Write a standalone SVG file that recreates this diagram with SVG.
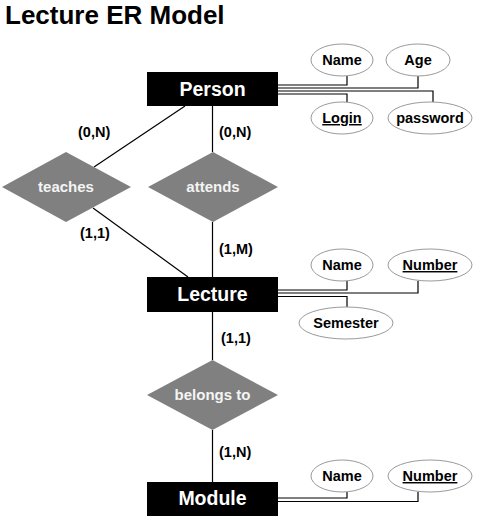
<svg xmlns="http://www.w3.org/2000/svg" width="482" height="517" viewBox="0 0 482 517">
<style>
.ent{fill:#000}
.entt{font-family:"Liberation Sans",Arial,sans-serif;font-weight:bold;font-size:19.5px;fill:#fff;text-anchor:middle}
.rel{fill:#808080}
.relt{font-family:"Liberation Sans",Arial,sans-serif;font-weight:bold;font-size:15px;fill:#f4f4f4;text-anchor:middle}
.att{fill:#fff;stroke:#9a9a9a;stroke-width:1}
.attt{font-family:"Liberation Sans",Arial,sans-serif;font-weight:bold;font-size:14.5px;fill:#000;text-anchor:middle}
.card{font-family:"Liberation Sans",Arial,sans-serif;font-weight:bold;font-size:14.5px;fill:#000}
.ln{fill:none;stroke:#000;stroke-width:1.2}
.title{font-family:"Liberation Sans",Arial,sans-serif;font-weight:bold;font-size:26px;fill:#000}
</style>
<rect width="482" height="517" fill="#fff"/>
<text class="title" x="5" y="24">Lecture ER Model</text>
<g id="connectors">
<line class="ln" x1="185" y1="106" x2="94" y2="167"/>
<line class="ln" x1="93" y1="208" x2="188" y2="277"/>
<line class="ln" x1="212.5" y1="106" x2="212.5" y2="152"/>
<line class="ln" x1="212.5" y1="222" x2="212.5" y2="277"/>
<line class="ln" x1="212.5" y1="312" x2="212.5" y2="360"/>
<line class="ln" x1="212.5" y1="430" x2="212.5" y2="482"/>
<polyline class="ln" points="278,85 347,85 347,76"/>
<polyline class="ln" points="278,88 418,88 418,76"/>
<polyline class="ln" points="278,91 433,91 433,102"/>
<polyline class="ln" points="278,94 347,94 347,102"/>
<polyline class="ln" points="278,290 347,290 347,281"/>
<polyline class="ln" points="278,293 418,293 418,281"/>
<polyline class="ln" points="278,296.5 347,296.5 347,308"/>
<polyline class="ln" points="278,498 347,498 347,492"/>
<polyline class="ln" points="278,501.5 418,501.5 418,492"/>
</g>
<g id="labels">
<text class="card" x="78" y="137">(0,N)</text>
<text class="card" x="219" y="137">(0,N)</text>
<text class="card" x="80" y="238">(1,1)</text>
<text class="card" x="219" y="254">(1,M)</text>
<text class="card" x="221" y="343">(1,1)</text>
<text class="card" x="219" y="457">(1,N)</text>
</g>
<g id="person">
<rect class="ent" x="147" y="72" width="131" height="34"/>
<text class="entt" x="212.5" y="96">Person</text>
</g>
<g id="person-name">
<ellipse class="att" cx="342" cy="60" rx="31" ry="16"/>
<text class="attt" x="342" y="65">Name</text>
</g>
<g id="person-age">
<ellipse class="att" cx="418" cy="60" rx="32" ry="16"/>
<text class="attt" x="418" y="65">Age</text>
</g>
<g id="person-login">
<ellipse class="att" cx="342" cy="118" rx="31" ry="16"/>
<text class="attt" x="342" y="123" text-decoration="underline">Login</text>
</g>
<g id="person-password">
<ellipse class="att" cx="430" cy="118" rx="42" ry="16"/>
<text class="attt" x="430" y="123">password</text>
</g>
<g id="teaches">
<polygon class="rel" points="2,187 66,152 131,187 66,222"/>
<text class="relt" x="66" y="192">teaches</text>
</g>
<g id="attends">
<polygon class="rel" points="148,187 213,152 278,187 213,222"/>
<text class="relt" x="213" y="192">attends</text>
</g>
<g id="lecture">
<rect class="ent" x="147" y="277" width="131" height="35"/>
<text class="entt" x="212.5" y="301">Lecture</text>
</g>
<g id="lecture-name">
<ellipse class="att" cx="342" cy="265" rx="31" ry="16"/>
<text class="attt" x="342" y="270">Name</text>
</g>
<g id="lecture-number">
<ellipse class="att" cx="430" cy="265" rx="42" ry="16"/>
<text class="attt" x="430" y="270" text-decoration="underline">Number</text>
</g>
<g id="lecture-semester">
<ellipse class="att" cx="346" cy="323" rx="47" ry="16"/>
<text class="attt" x="346" y="328">Semester</text>
</g>
<g id="belongs-to">
<polygon class="rel" points="147,395 212.5,360 278,395 212.5,430"/>
<text class="relt" x="212.5" y="400">belongs to</text>
</g>
<g id="module">
<rect class="ent" x="147" y="482" width="131" height="34"/>
<text class="entt" x="212.5" y="505">Module</text>
</g>
<g id="module-name">
<ellipse class="att" cx="342" cy="476" rx="31" ry="16"/>
<text class="attt" x="342" y="481">Name</text>
</g>
<g id="module-number">
<ellipse class="att" cx="430" cy="476" rx="42" ry="16"/>
<text class="attt" x="430" y="481" text-decoration="underline">Number</text>
</g>
</svg>
